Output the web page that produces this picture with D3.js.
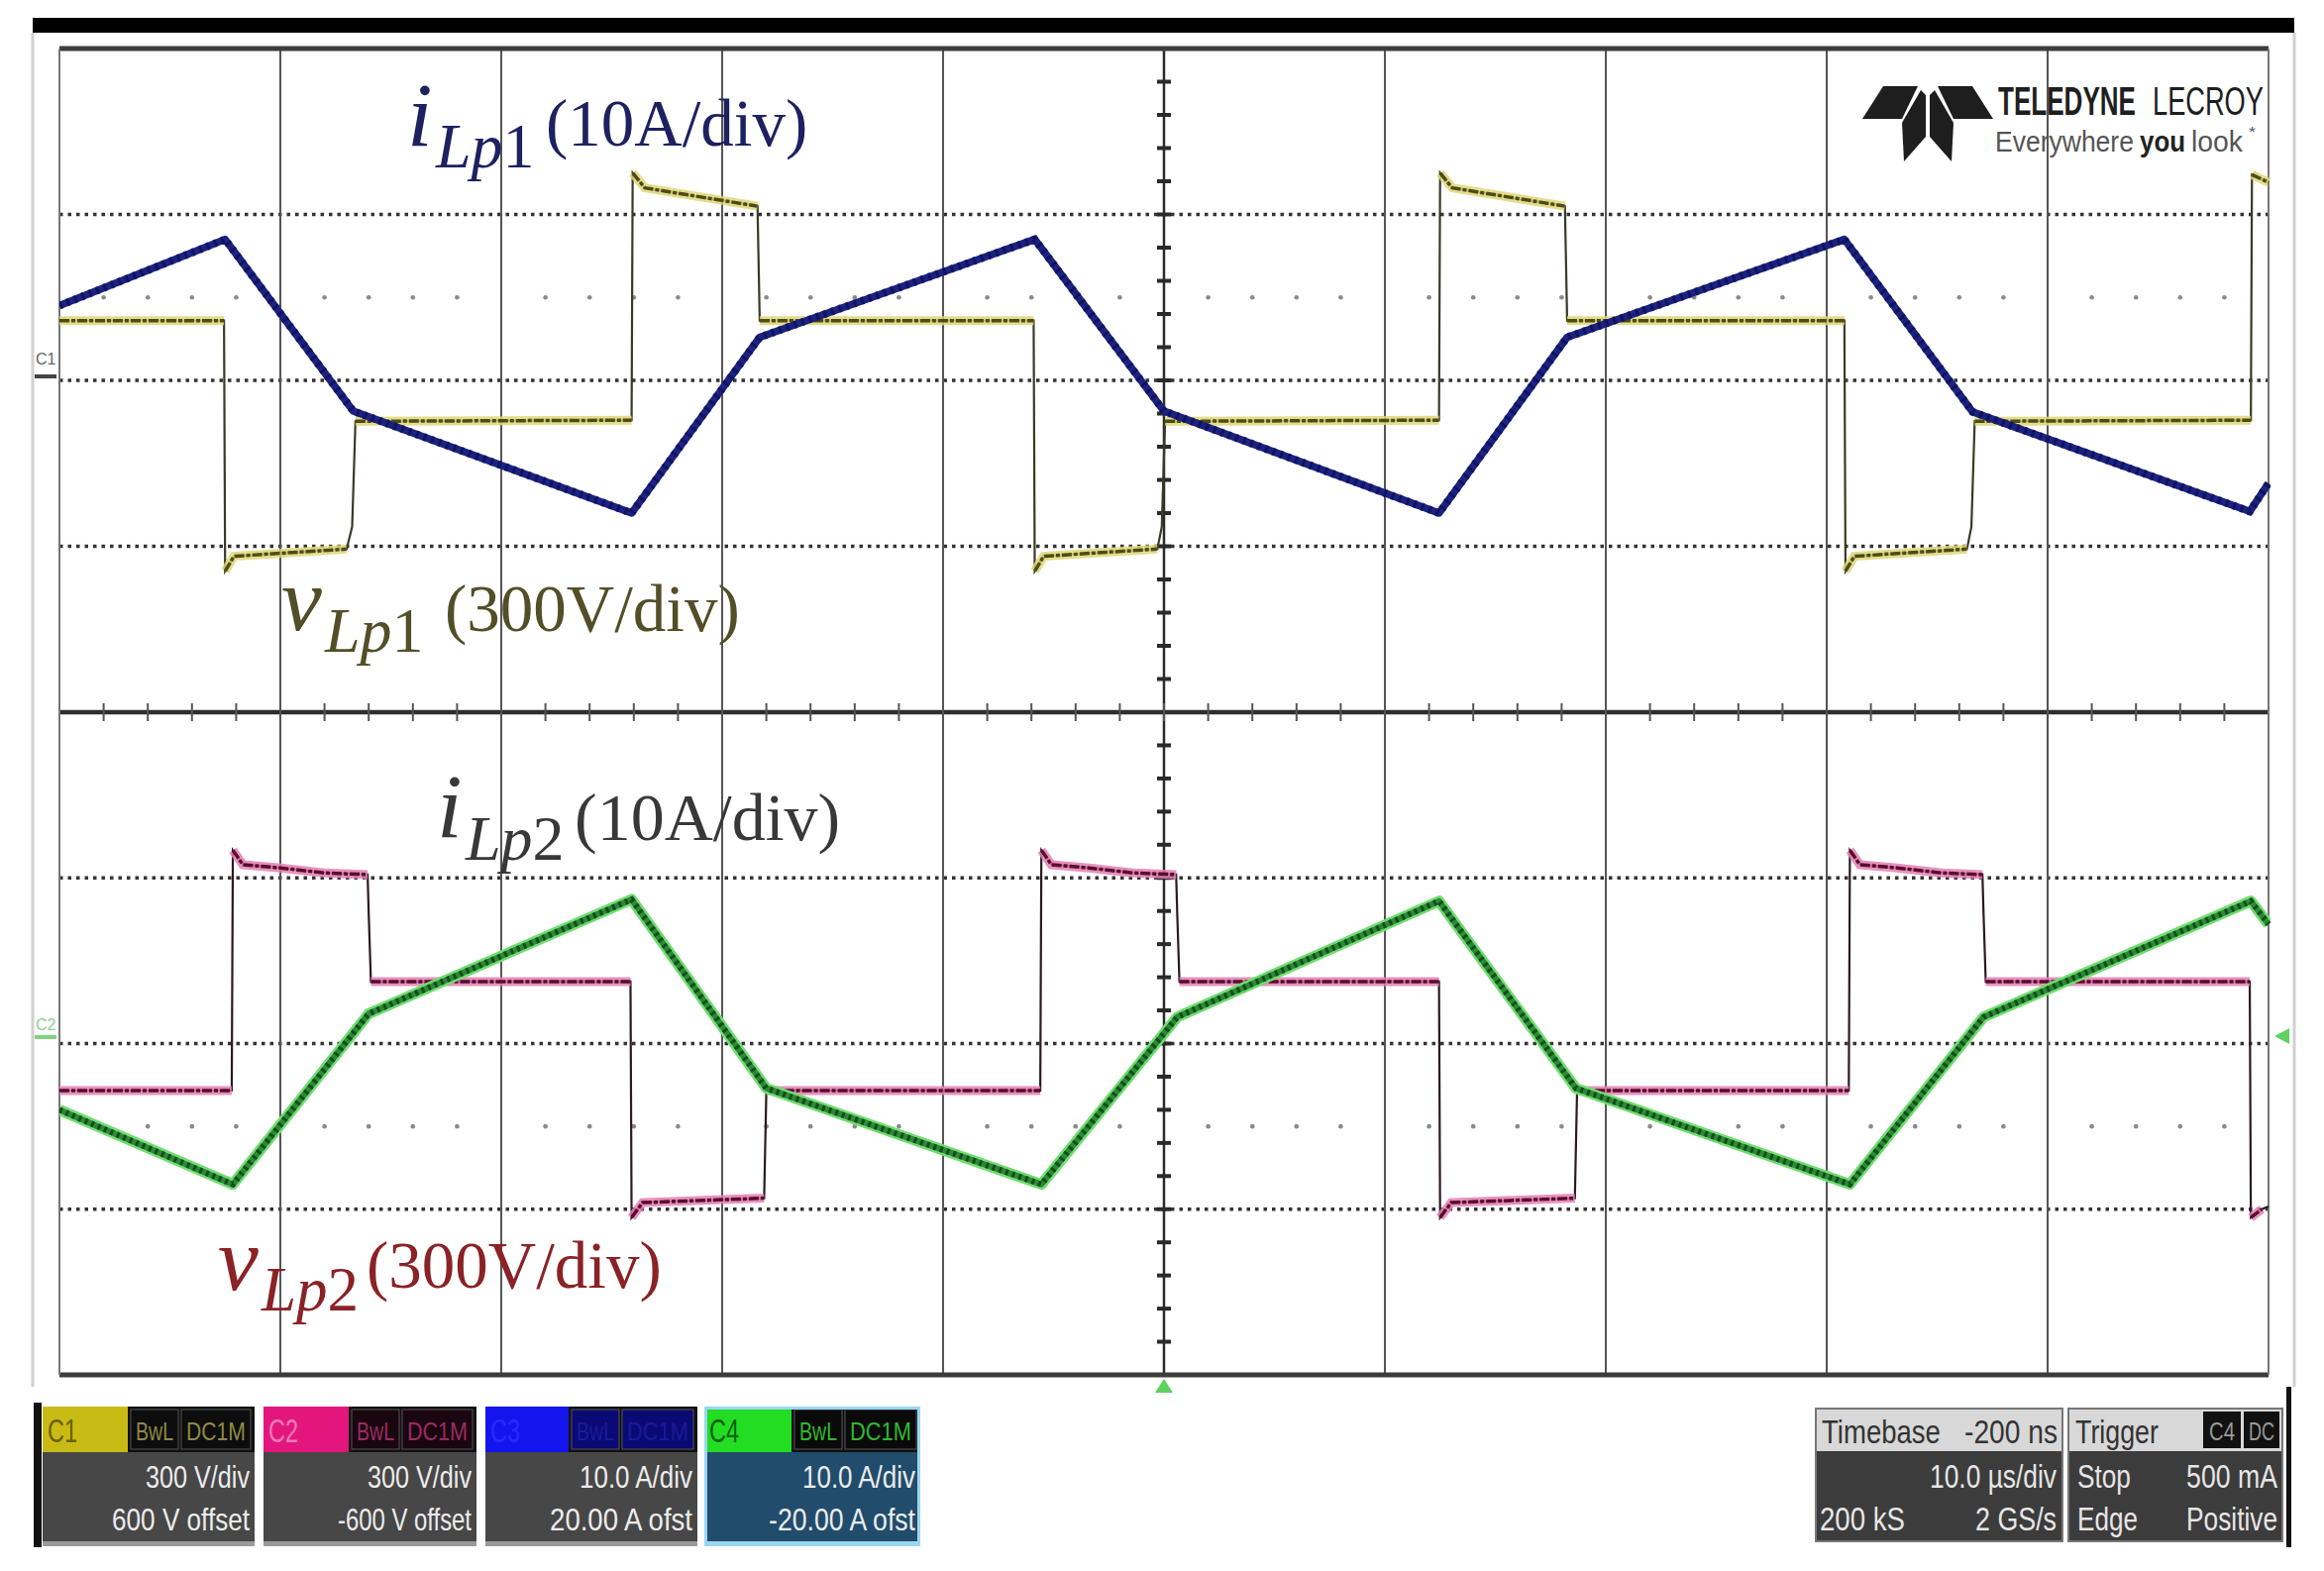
<!DOCTYPE html>
<html><head><meta charset="utf-8">
<script src="https://cdn.jsdelivr.net/npm/d3@7"></script>
<style>html,body{margin:0;background:#fff;}svg{display:block}</style>
</head><body>
<svg id="c" width="2346" height="1586"></svg>
<script>
// ---------------- DATA ----------------
// time in microseconds (10 us/div, 10 divisions)
const timeDivTicks = [0,10,20,30,40,50,60,70,80,90,100];
// v_Lp1 (C1, 300 V/div) [us, V]
const vLp1 = [
 [0,108],[7.45,108],[7.5,-345],[7.9,-318],[13.0,-305],[13.25,-265],[13.4,-74],[25.9,-72],[25.95,375],[26.5,348],[31.6,315],[31.7,108],
 [44.1,108],[44.15,-345],[44.55,-318],[49.7,-305],[49.9,-265],[50.05,-74],[62.45,-72],[62.5,375],[63.05,348],[68.15,315],[68.25,108],
 [80.8,108],[80.85,-345],[81.25,-318],[86.35,-305],[86.55,-265],[86.7,-74],[99.2,-72],[99.25,372],[100,358]
];
// i_Lp1 (C3, 10 A/div) [us, A]
const iLp1 = [[0,4.5],[7.5,8.5],[13.3,-1.85],[25.9,-8.0],[31.7,2.6],[44.15,8.5],[50.0,-1.85],[62.45,-8.0],[68.25,2.6],[80.8,8.5],[86.6,-1.9],[99.15,-7.9],[100,-6.2]];
// v_Lp2 (C2, 300 V/div) [us, V]
const vLp2 = [
 [0,-85],[7.8,-85],[7.85,350],[8.3,324],[10.0,318],[12.0,309],[13.95,306],[14.0,235],[14.1,112],
 [25.85,112],[25.9,-315],[26.4,-288],[31.9,-280],[32.0,-85],
 [44.4,-85],[44.45,350],[44.9,324],[46.6,318],[48.6,309],[50.55,306],[50.6,235],[50.7,112],
 [62.45,112],[62.5,-315],[63.0,-288],[68.6,-280],[68.7,-85],
 [81.0,-85],[81.05,350],[81.5,324],[83.2,318],[85.2,309],[87.05,306],[87.1,235],[87.2,112],
 [99.15,112],[99.2,-315],[99.7,-300],[100,-295]
];
// i_Lp2 (C4, 10 A/div) [us, A]
const iLp2 = [[0,-4.0],[7.85,-8.5],[14.0,1.8],[25.9,8.7],[32.0,-2.7],[44.45,-8.5],[50.6,1.6],[62.45,8.6],[68.65,-2.7],[81.05,-8.5],[87.1,1.6],[99.2,8.6],[100,7.2]];

// channel descriptor tiles
const chNames   = ['C1','C2','C3','C4'];
const chVdiv    = ['300 V/div','300 V/div','10.0 A/div','10.0 A/div'];
const chOffset  = ['600 V offset','-600 V offset','20.00 A ofst','-20.00 A ofst'];
const chCoupling= ['BwL','DC1M'];
const timebaseTxt = ['Timebase','-200 ns','10.0 \u00b5s/div','200 kS','2 GS/s'];
const triggerTxt  = ['Trigger','C4','DC','Stop','500 mA','Edge','Positive'];

// ---------------- LAYOUT ----------------
const svg = d3.select('#c');
const X0=60, X1=2290, Y0=49, YM=719, Y1=1388;
const x = d3.scaleLinear().domain([0,100]).range([X0,X1]);
const divTop = d3.scaleLinear().domain([-2,2]).range([YM,Y0]);
const divBot = d3.scaleLinear().domain([-2,2]).range([Y1,YM]);
const yC1 = d3.scaleLinear().domain([-600,600]).range([YM,Y0]);
const yC3 = d3.scaleLinear().domain([-20,20]).range([YM,Y0]);
const yC2 = d3.scaleLinear().domain([-600,600]).range([Y1,YM]);
const yC4 = d3.scaleLinear().domain([-20,20]).range([Y1,YM]);

// outer decorations
svg.append('rect').attr('x',33).attr('y',18).attr('width',2283).attr('height',15).attr('fill','#000');
svg.append('line').attr('x1',33).attr('x2',33).attr('y1',33).attr('y2',1400).attr('stroke','#d0d0d0').attr('stroke-width',3);
svg.append('line').attr('x1',2316).attr('x2',2316).attr('y1',33).attr('y2',1400).attr('stroke','#d0d0d0').attr('stroke-width',3);

const grid = svg.append('g');
const minorT = d3.range(0,100.01,2);
[1,0,-1].forEach(d=>{
  [divTop(d),divBot(d)].forEach(yy=>{
    grid.append('line').attr('x1',X0).attr('x2',X1).attr('y1',yy).attr('y2',yy)
      .attr('stroke','#333').attr('stroke-width',3.5).attr('stroke-dasharray','3.5 5');
  });
});
[divTop(0.5),divBot(-0.5)].forEach(yy=>{
  grid.selectAll(null).data(minorT.filter(t=>t%10!==0)).enter().append('circle')
    .attr('cx',t=>x(t)).attr('cy',yy).attr('r',2.3).attr('fill','#8a8a8a');
});
timeDivTicks.slice(1,-1).forEach(t=>{
  grid.append('line').attr('x1',x(t)).attr('x2',x(t)).attr('y1',Y0).attr('y2',Y1)
    .attr('stroke', t===50?'#2a2a2a':'#555').attr('stroke-width', t===50?2.5:2);
});
d3.range(-2,2.001,0.2).forEach(d=>{
  [divTop(d),divBot(d)].forEach(yy=>{
    grid.append('line').attr('x1',x(50)-7).attr('x2',x(50)+7).attr('y1',yy).attr('y2',yy)
      .attr('stroke','#2a2a2a').attr('stroke-width',4);
  });
});
grid.append('line').attr('x1',X0).attr('x2',X1).attr('y1',YM).attr('y2',YM).attr('stroke','#2e2e2e').attr('stroke-width',4.5);
minorT.forEach(t=>{
  grid.append('line').attr('x1',x(t)).attr('x2',x(t)).attr('y1',YM-9).attr('y2',YM+9).attr('stroke','#555').attr('stroke-width',2);
});
grid.append('line').attr('x1',X0).attr('x2',X1).attr('y1',Y0).attr('y2',Y0).attr('stroke','#3c3c3c').attr('stroke-width',5);
grid.append('line').attr('x1',X0).attr('x2',X1).attr('y1',Y1).attr('y2',Y1).attr('stroke','#3c3c3c').attr('stroke-width',5);
grid.append('line').attr('x1',X0).attr('x2',X0).attr('y1',Y0).attr('y2',Y1).attr('stroke','#777').attr('stroke-width',2);
grid.append('line').attr('x1',X1).attr('x2',X1).attr('y1',Y0).attr('y2',Y1).attr('stroke','#777').attr('stroke-width',2);

svg.append('clipPath').attr('id','pc').append('rect').attr('x',X0).attr('y',Y0-30).attr('width',X1-X0+2).attr('height',Y1-Y0+60);
const tr = svg.append('g').attr('clip-path','url(#pc)');

function plateaus(data){
  const runs=[]; let cur=[data[0]];
  for(let k=1;k<data.length;k++){
    if(data[k][0]-data[k-1][0] >= 0.3){ cur.push(data[k]); }
    else { if(cur.length>1) runs.push(cur); cur=[data[k]]; }
  }
  if(cur.length>1) runs.push(cur);
  return runs;
}
function stepTrace(data, ys, halo, core, edge){
  const line = d3.line().x(d=>x(d[0])).y(d=>ys(d[1]));
  tr.append('path').attr('d',line(data)).attr('fill','none').attr('stroke',edge).attr('stroke-width',2.2);
  const runs = plateaus(data);
  runs.forEach(r=>{
    tr.append('path').attr('d',line(r)).attr('fill','none').attr('stroke',halo).attr('stroke-width',9).attr('opacity',0.85);
  });
  runs.forEach(r=>{
    tr.append('path').attr('d',line(r)).attr('fill','none').attr('stroke',core).attr('stroke-width',3.5)
      .attr('stroke-dasharray','10 2 4 2');
  });
}
stepTrace(vLp1, yC1, '#ddd777', '#4f4b18', '#3a3a28');
stepTrace(vLp2, yC2, '#e27fb2', '#5a0b2f', '#2b1a22');

const l3 = d3.line().x(d=>x(d[0])).y(d=>yC3(d[1]));
tr.append('path').attr('d',l3(iLp1)).attr('fill','none').attr('stroke','#1c2184').attr('stroke-width',7.5).attr('stroke-linejoin','round');
tr.append('path').attr('d',l3(iLp1)).attr('fill','none').attr('stroke','#0b0f4a').attr('stroke-width',8).attr('stroke-dasharray','3 5').attr('opacity',0.7);
const l4 = d3.line().x(d=>x(d[0])).y(d=>yC4(d[1]));
tr.append('path').attr('d',l4(iLp2)).attr('fill','none').attr('stroke','#72dc72').attr('stroke-width',11).attr('stroke-linejoin','round');
tr.append('path').attr('d',l4(iLp2)).attr('fill','none').attr('stroke','#2c8a36').attr('stroke-width',6).attr('stroke-linejoin','round');
tr.append('path').attr('d',l4(iLp2)).attr('fill','none').attr('stroke','#134e1c').attr('stroke-width',6).attr('stroke-dasharray','3 4');

// channel markers
svg.append('text').attr('x',36).attr('y',368).attr('font-family','Liberation Sans').attr('font-size',16).attr('fill','#666').text('C1');
svg.append('rect').attr('x',35).attr('y',378).attr('width',22).attr('height',4).attr('fill','#444');
svg.append('text').attr('x',36).attr('y',1040).attr('font-family','Liberation Sans').attr('font-size',16).attr('fill','#8ccf8c').text('C2');
svg.append('rect').attr('x',35).attr('y',1045).attr('width',22).attr('height',4).attr('fill','#7ed47e');
svg.append('polygon').attr('points','2296,1046 2311,1038 2311,1054').attr('fill','#5ed15e');
svg.append('polygon').attr('points','1175,1392 1166,1406 1184,1406').attr('fill','#5ed15e');

// ---------------- LABELS ----------------
const serif='Liberation Serif, Times New Roman, serif';
function label(parts){
  parts.forEach(p=>{
    const t = svg.append('text').attr('x',p.x).attr('y',p.y).attr('font-family',serif).attr('font-size',p.s).attr('fill',p.c);
    p.t.forEach(s=>t.append('tspan').attr('font-style',s[1]?'italic':'normal').text(s[0]));
  });
}
label([{x:411,y:147,s:92,c:'#1d2160',t:[['i',1]]},{x:440,y:169,s:64,c:'#1d2160',t:[['Lp',1],['1',0]]},{x:551,y:147,s:67,c:'#1d2160',t:[['(10A/div)',0]]}]);
label([{x:284,y:636,s:92,c:'#524f28',t:[['v',1]]},{x:328,y:658,s:64,c:'#524f28',t:[['Lp',1],['1',0]]},{x:449,y:637,s:67,c:'#524f28',t:[['(300V/div)',0]]}]);
label([{x:441,y:845,s:92,c:'#383838',t:[['i',1]]},{x:470,y:868,s:64,c:'#383838',t:[['Lp',1],['2',0]]},{x:580,y:848,s:68,c:'#383838',t:[['(10A/div)',0]]}]);
label([{x:220,y:1302,s:92,c:'#8a2226',t:[['v',1]]},{x:264,y:1323,s:63,c:'#8a2226',t:[['Lp',1],['2',0]]},{x:370,y:1300,s:67,c:'#8a2226',t:[['(300V/div)',0]]}]);

// ---------------- NARROW TEXT HELPER ----------------
const sans='Liberation Sans, Arial, sans-serif';
// draws text horizontally condensed to a target width (via scale transform, so its box stays true)
function nt(parent, xp, yp, str, anchor, width, size, fill, bold){
  const t = parent.append('text').attr('x',0).attr('y',0).attr('text-anchor',anchor).attr('font-family',sans)
    .attr('font-size',size).attr('fill',fill).attr('font-weight',bold?'bold':'normal').text(str);
  const nat = t.node().getComputedTextLength();
  const s = nat>0 ? width/nat : 1;
  t.attr('transform',`translate(${xp},${yp}) scale(${s},1)`);
  return t;
}

// ---------------- LOGO ----------------
const logo = svg.append('g').attr('fill','#1e1e1e');
[[[1901,87],[1936,87],[1920,120],[1880,120]],
 [[1991,87],[1956,87],[1972,120],[2012,120]],
 [[1939,91],[1944,96],[1944,138],[1922,163],[1920,124]],
 [[1953,91],[1948,96],[1948,138],[1970,163],[1972,124]]].forEach(p=>{
  logo.append('polygon').attr('points',p.map(q=>q.join(',')).join(' '));
});
nt(svg,2017,116,'TELEDYNE','start',139,40,'#1e1e1e',true);
nt(svg,2173,116,'LECROY','start',112,40,'#1e1e1e',false);
nt(svg,2014,153,'Everywhere','start',140,30,'#555',false);
nt(svg,2160,153,'you','start',46,30,'#222',true);
nt(svg,2212,153,'look','start',52,30,'#555',false);
nt(svg,2270,138,'*','start',7,14,'#555',false);

// ---------------- BOTTOM PANELS ----------------
const panelY0=1420, hdrH=46, panelY1=1556;
const tiles = [
 {x0:43,x1:257,hw:86,hc:'#c9bb16',lc:'#6a6300',bf:'#0d0d0d',bt:'#8f8a45',body:'#474747',border:null},
 {x0:266,x1:481,hw:86,hc:'#e3167e',lc:'#f27ab6',bf:'#1a0610',bt:'#9a2b63',body:'#474747',border:null},
 {x0:490,x1:704,hw:84,hc:'#1414ee',lc:'#2a2aff',bf:'#0a0a74',bt:'#1a1a9a',body:'#474747',border:null},
 {x0:711,x1:929,hw:88,hc:'#22dd22',lc:'#0b620b',bf:'#0a0a0a',bt:'#2fb82f',body:'#214c6c',border:'#9ad6f2'}
];
svg.append('rect').attr('x',34).attr('y',1416).attr('width',8).attr('height',146).attr('fill','#111');
tiles.forEach((o,k)=>{
  const g = svg.append('g');
  g.append('rect').attr('x',o.x0).attr('y',panelY0).attr('width',o.x1-o.x0).attr('height',panelY1-panelY0).attr('fill',o.body);
  g.append('rect').attr('x',o.x0).attr('y',panelY0).attr('width',o.x1-o.x0).attr('height',hdrH).attr('fill','#111');
  g.append('rect').attr('x',o.x0).attr('y',panelY0).attr('width',o.hw).attr('height',hdrH).attr('fill',o.hc);
  const bx1 = o.x0+o.hw+3, bw1=48, bx2 = bx1+bw1+3, bw2 = o.x1-4-bx2;
  g.append('rect').attr('x',bx1).attr('y',panelY0+3).attr('width',bw1).attr('height',hdrH-6).attr('fill',o.bf).attr('stroke','#555').attr('stroke-width',1);
  g.append('rect').attr('x',bx2).attr('y',panelY0+3).attr('width',bw2).attr('height',hdrH-6).attr('fill',o.bf).attr('stroke','#555').attr('stroke-width',1);
  nt(g,bx1+bw1/2,panelY0+34,chCoupling[0],'middle',bw1-10,26,o.bt);
  nt(g,bx2+bw2/2,panelY0+34,chCoupling[1],'middle',bw2-10,26,o.bt);
  nt(g,o.x0+5,panelY0+36,chNames[k],'start',30,34,o.lc);
  const tx = o.x1-5;
  nt(g,tx,1502,chVdiv[k],'end',k<2?105:114,32,'#ececec');
  nt(g,tx,1545,chOffset[k],'end',[139,135,144,148][k],32,'#ececec');
  if(o.border){
    g.append('rect').attr('x',o.x0+1.5).attr('y',panelY0+1.5).attr('width',o.x1-o.x0-3).attr('height',panelY1-panelY0+2)
      .attr('fill','none').attr('stroke',o.border).attr('stroke-width',3);
  }
  g.append('rect').attr('x',o.x0).attr('y',panelY1).attr('width',o.x1-o.x0).attr('height',5).attr('fill',o.border||'#9a9a9a');
});

function infoBox(x0,x1){
  svg.append('rect').attr('x',x0).attr('y',panelY0+2).attr('width',x1-x0).attr('height',panelY1-panelY0-2).attr('fill','#3c3c3c');
  svg.append('rect').attr('x',x0).attr('y',panelY0+2).attr('width',x1-x0).attr('height',hdrH-3).attr('fill','#d8d8d8');
  svg.append('rect').attr('x',x0).attr('y',panelY0+2).attr('width',x1-x0).attr('height',panelY1-panelY0-2).attr('fill','none').attr('stroke','#777').attr('stroke-width',2);
}
infoBox(1833,2082); infoBox(2088,2304);
nt(svg,1839,1457,timebaseTxt[0],'start',120,33,'#333');
nt(svg,2077,1457,timebaseTxt[1],'end',94,33,'#333');
nt(svg,2076,1502,timebaseTxt[2],'end',128,33,'#e6e6e6');
nt(svg,1837,1545,timebaseTxt[3],'start',86,33,'#e6e6e6');
nt(svg,2076,1545,timebaseTxt[4],'end',82,33,'#e6e6e6');
nt(svg,2095,1457,triggerTxt[0],'start',84,33,'#333');
svg.append('rect').attr('x',2224).attr('y',1425).attr('width',38).attr('height',37).attr('fill','#111');
svg.append('rect').attr('x',2265).attr('y',1425).attr('width',36).attr('height',37).attr('fill','#111');
nt(svg,2243,1454,triggerTxt[1],'middle',26,26,'#9a9a9a');
nt(svg,2283,1454,triggerTxt[2],'middle',26,26,'#9a9a9a');
nt(svg,2097,1502,triggerTxt[3],'start',54,33,'#e6e6e6');
nt(svg,2299,1502,triggerTxt[4],'end',92,33,'#e6e6e6');
nt(svg,2097,1545,triggerTxt[5],'start',61,33,'#e6e6e6');
nt(svg,2299,1545,triggerTxt[6],'end',92,33,'#e6e6e6');
svg.append('rect').attr('x',2308).attr('y',1400).attr('width',5).attr('height',162).attr('fill','#111');
</script>
</body></html>
